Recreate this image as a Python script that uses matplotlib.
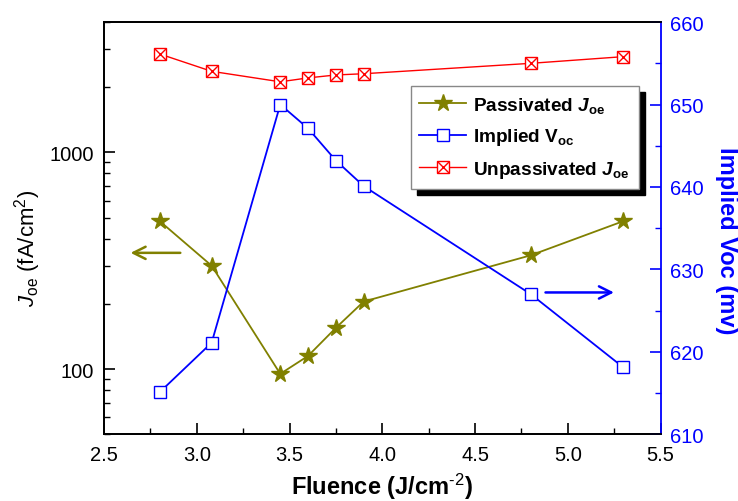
import numpy as np
import matplotlib
matplotlib.use("Agg")
from matplotlib import pyplot as plt
from matplotlib.legend_handler import HandlerTuple
from matplotlib.ticker import FixedLocator, MultipleLocator, LogLocator, NullFormatter

plt.rcParams['font.family'] = ['Liberation Sans', 'DejaVu Sans']
plt.rcParams['mathtext.fontset'] = 'custom'
plt.rcParams['mathtext.rm'] = 'Liberation Sans'
plt.rcParams['mathtext.it'] = 'Liberation Sans:italic'
plt.rcParams['mathtext.bf'] = 'Liberation Sans:bold'
plt.rcParams['mathtext.bfit'] = 'Liberation Sans:italic:bold'

# data
fluence_pass = [2.8, 3.08, 3.45, 3.6, 3.75, 3.9, 4.8, 5.3]
joe_pass = [482, 300, 95, 115, 155, 205, 335, 482]

fluence_voc = [2.8, 3.08, 3.45, 3.6, 3.75, 3.9, 4.8, 5.3]
implied_voc = [615.1, 621.1, 650.0, 647.1, 643.2, 640.1, 627.0, 618.1]

fluence_unpass = [2.8, 3.08, 3.45, 3.6, 3.75, 3.9, 4.8, 5.3]
joe_unpass = [2850, 2370, 2120, 2210, 2280, 2310, 2580, 2770]

olive = '#808000'
blue = '#0000ff'
red = '#ff0000'

fig = plt.figure(figsize=(7.38, 5.02), dpi=100)
ax = fig.add_axes([0.141, 0.133, 0.754, 0.821])
ax2 = ax.twinx()

l_pass, = ax.plot(fluence_pass, joe_pass, color=olive, lw=1.3, marker='*',
                  ms=13, mfc=olive, mec=olive, zorder=3)
l_un, = ax.plot(fluence_unpass, joe_unpass, color=red, lw=1.0, marker='s',
                ms=9, mfc='white', mec=red, mew=1.0, zorder=3)
l_unx, = ax.plot(fluence_unpass, joe_unpass, ls='none', marker='x',
                 ms=8, mec=red, mew=1.0, zorder=4)
l_voc, = ax2.plot(fluence_voc, implied_voc, color=blue, lw=1.3, marker='s',
                  ms=9, mfc='white', mec=blue, mew=1.0, zorder=3)

ax.set_yscale('log')
ax.set_xlim(2.5, 5.5)
ax.set_ylim(50, 4000)
ax2.set_ylim(610, 660)

ax.xaxis.set_minor_locator(MultipleLocator(0.25))
ax.set_xticks(np.arange(2.5, 5.51, 0.5))
ax.set_xticklabels(['2.5', '3.0', '3.5', '4.0', '4.5', '5.0', '5.5'])
ax.yaxis.set_major_locator(FixedLocator([100, 1000]))
ax.set_yticklabels(['100', '1000'])
ax.yaxis.set_minor_locator(LogLocator(base=10, subs=np.arange(2, 10)))
ax.yaxis.set_minor_formatter(NullFormatter())
ax2.yaxis.set_major_locator(MultipleLocator(10))
ax2.yaxis.set_minor_locator(MultipleLocator(5))

ax.tick_params(which='both', direction='in', labelsize=14.5, top=False, right=False)
ax.tick_params(which='major', length=8, width=1.2)
ax.tick_params(which='minor', length=4.5, width=1.0)
ax.tick_params(axis='x', pad=8)
ax.tick_params(axis='y', pad=7)
ax2.tick_params(which='both', direction='in', labelsize=14.5, colors=blue)
ax2.tick_params(which='major', length=8, width=1.2, pad=7)
ax2.tick_params(which='minor', length=4.5, width=1.0)

for s in ['left', 'bottom', 'top']:
    ax.spines[s].set_linewidth(1.3)
    ax2.spines[s].set_linewidth(1.3)
ax2.spines['right'].set_color(blue)
ax2.spines['right'].set_linewidth(1.3)
ax.spines['right'].set_visible(False)

ax.set_xlabel('Fluence (J/cm$^{\\text{-2}}$)', fontsize=17, fontweight='bold',
              va='center')
ax.xaxis.set_label_coords(0.5, -0.125)
ax.set_ylabel('$J$$_{\\mathrm{oe}}$ (fA/cm$^2$)', fontsize=16, va='center')
ax.yaxis.set_label_coords(-0.137, 0.453)
ax2.set_ylabel('Implied Voc (mv)', fontsize=17, fontweight='bold', color=blue,
               rotation=270, va='center')
ax2.yaxis.set_label_coords(1.118, 0.471)

# direction arrows
ax.annotate('', xy=(2.628, 344), xytext=(2.926, 344),
            arrowprops=dict(arrowstyle='->', color=olive, lw=1.8,
                            mutation_scale=22))
ax2.annotate('', xy=(5.264, 627.2), xytext=(4.865, 627.2),
             arrowprops=dict(arrowstyle='->', color=blue, lw=1.8,
                             mutation_scale=22))

leg = ax2.legend([l_pass, l_voc, (l_un, l_unx)],
                 ['Passivated $\\mathbfit{J}_{\\mathbf{oe}}$',
                  'Implied V$_{\\mathbf{oc}}$',
                  'Unpassivated $\\mathbfit{J}_{\\mathbf{oe}}$'],
                 handler_map={tuple: HandlerTuple(ndivide=1)},
                 loc='upper left', bbox_to_anchor=(0.551, 0.845),
                 borderaxespad=0, fancybox=False, framealpha=1,
                 edgecolor='#888888', numpoints=1, handlelength=2.45,
                 handletextpad=0.4, labelspacing=0.62, borderpad=0.45,
                 prop={'weight': 'bold', 'size': 13.7},
                 shadow={'color': 'black', 'alpha': 1, 'ox': 4.5, 'oy': -4.5})
leg.get_frame().set_linewidth(1.0)

fig.savefig('out.png', dpi=100)
